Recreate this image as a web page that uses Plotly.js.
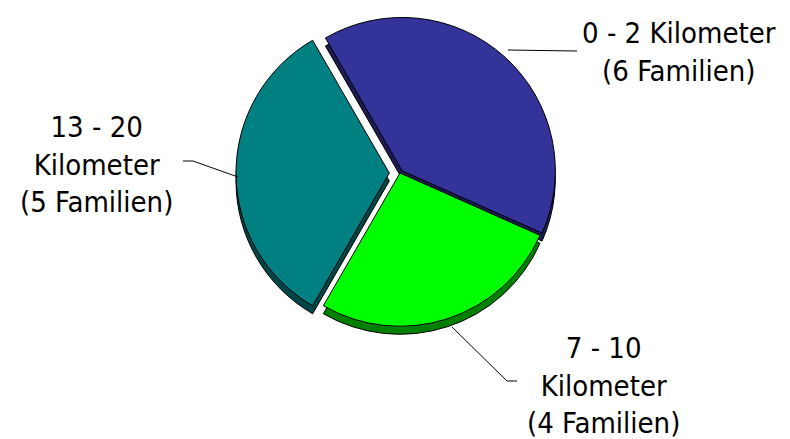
<!DOCTYPE html>
<html>
<head>
<meta charset="utf-8">
<script src="https://cdn.plot.ly/plotly-3.0.1.min.js"></script>
<style>html,body{margin:0;padding:0;background:#fff;}#chart{width:790px;height:439px;}</style>
</head>
<body>
<div id="chart"></div>
<script>
// Data
const categories = ["0 - 2 Kilometer", "7 - 10 Kilometer", "13 - 20 Kilometer"];
const families = [6, 4, 5];
const labelTexts = ["0 - 2 Kilometer<br>(6 Familien)", "7 - 10<br>Kilometer<br>(4 Familien)", "13 - 20<br>Kilometer<br>(5 Familien)"];
const topColors = ["#333399", "#00FF00", "#008080"];
const sideColors = ["#1C1C55", "#008000", "#004646"];
const pulls = [0.02, 0.0, 0.07];

const W = 790, H = 439;
const px = x => x / W;
const py = y => 1 - y / H;

const cx = 400, cy = 173, half = 164, depth = 8;
const domTop = {x: [px(cx - half), px(cx + half)], y: [py(cy + half), py(cy - half)]};
const domSide = {x: [px(cx - half), px(cx + half)], y: [py(cy + half + depth), py(cy - half + depth)]};

const common = {
  type: "pie",
  labels: categories,
  values: families,
  sort: false,
  direction: "clockwise",
  rotation: -30,
  pull: pulls,
  textinfo: "none",
  hoverinfo: "skip",
  showlegend: false
};

const traces = [
  Object.assign({}, common, {domain: domSide, marker: {colors: sideColors, line: {color: "#000", width: 1}}}),
  Object.assign({}, common, {domain: domTop, marker: {colors: topColors, line: {color: "#000", width: 1}}})
];

const font = {family: "DejaVu Sans Condensed, DejaVu Sans, sans-serif", size: 29, color: "#000"};

const annPos = [[679, 52], [603, 385], [96, 165]];
const annotations = labelTexts.map((t, i) => ({
  text: t, xref: "paper", yref: "paper",
  x: px(annPos[i][0]), y: py(annPos[i][1]),
  xanchor: "center", yanchor: "middle", showarrow: false, align: "center", font: font
}));

const leaders = [
  [[508, 50], [577, 51]],
  [[452, 327], [507, 381], [517, 381]],
  [[238, 177], [193, 161], [183, 161]]
];
const shapes = leaders.map(pts => ({
  type: "path", xref: "paper", yref: "paper",
  path: pts.map((p, k) => (k ? "L" : "M") + px(p[0]) + "," + py(p[1])).join(" "),
  line: {color: "#000", width: 1}
}));

const layout = {
  width: W, height: H,
  margin: {l: 0, r: 0, t: 0, b: 0},
  paper_bgcolor: "#fff",
  plot_bgcolor: "#fff",
  annotations: annotations,
  shapes: shapes
};

Plotly.newPlot("chart", traces, layout, {displayModeBar: false, staticPlot: true});
</script>
</body>
</html>
